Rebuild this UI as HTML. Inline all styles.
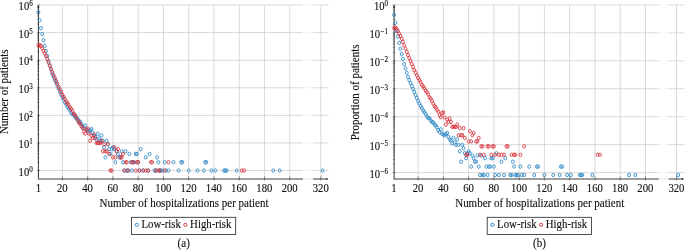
<!DOCTYPE html>
<html><head><meta charset="utf-8"><title>Hospitalizations per patient</title>
<style>html,body{margin:0;padding:0;background:#fff}svg{display:block}text{stroke:#111;stroke-width:.12px}</style></head>
<body>
<svg width="685" height="250" viewBox="0 0 685 250" font-family="'Liberation Serif', serif" font-size="11.0" fill="#111">
<rect width="685" height="250" fill="#fff"/>
<path d="M38.40 5.00H328.70 M38.40 32.59H328.70 M38.40 60.18H328.70 M38.40 87.77H328.70 M38.40 115.36H328.70 M38.40 142.95H328.70 M38.40 170.54H328.70 M62.40 5.00V179.05 M87.66 5.00V179.05 M112.92 5.00V179.05 M138.18 5.00V179.05 M163.44 5.00V179.05 M188.70 5.00V179.05 M213.96 5.00V179.05 M239.22 5.00V179.05 M264.48 5.00V179.05 M289.74 5.00V179.05 M320.80 5.00V179.05" stroke="#cfcfcf" stroke-width="0.8" fill="none"/>
<path d="M38.40 179.45V6.00" stroke="#111" stroke-width="0.85" fill="none"/>
<path d="M38.00 179.05H327.40" stroke="#7c7c7c" stroke-width="1.4" fill="none"/>
<path d="M38.40 5.00l1 2.6h-2z" fill="#111"/>
<path d="M328.40 179.05l-2 -1v2z" fill="#111"/>
<path d="M36.80 5.00h3.2 M37.20 24.28h2.0 M37.20 19.43h2.0 M37.20 15.98h2.0 M37.20 13.31h2.0 M37.20 11.12h2.0 M37.20 9.27h2.0 M37.20 7.67h2.0 M37.20 6.26h2.0 M36.80 32.59h3.2 M37.20 51.87h2.0 M37.20 47.02h2.0 M37.20 43.57h2.0 M37.20 40.90h2.0 M37.20 38.71h2.0 M37.20 36.86h2.0 M37.20 35.26h2.0 M37.20 33.85h2.0 M36.80 60.18h3.2 M37.20 79.46h2.0 M37.20 74.61h2.0 M37.20 71.16h2.0 M37.20 68.49h2.0 M37.20 66.30h2.0 M37.20 64.45h2.0 M37.20 62.85h2.0 M37.20 61.44h2.0 M36.80 87.77h3.2 M37.20 107.05h2.0 M37.20 102.20h2.0 M37.20 98.75h2.0 M37.20 96.08h2.0 M37.20 93.89h2.0 M37.20 92.04h2.0 M37.20 90.44h2.0 M37.20 89.03h2.0 M36.80 115.36h3.2 M37.20 134.64h2.0 M37.20 129.79h2.0 M37.20 126.34h2.0 M37.20 123.67h2.0 M37.20 121.48h2.0 M37.20 119.63h2.0 M37.20 118.03h2.0 M37.20 116.62h2.0 M36.80 142.95h3.2 M37.20 162.23h2.0 M37.20 157.38h2.0 M37.20 153.93h2.0 M37.20 151.26h2.0 M37.20 149.07h2.0 M37.20 147.22h2.0 M37.20 145.62h2.0 M37.20 144.21h2.0 M36.80 170.54h3.2 M62.40 176.05v4.6 M87.66 176.05v4.6 M112.92 176.05v4.6 M138.18 176.05v4.6 M163.44 176.05v4.6 M188.70 176.05v4.6 M213.96 176.05v4.6 M239.22 176.05v4.6 M264.48 176.05v4.6 M289.74 176.05v4.6 M320.80 176.05v4.6" stroke="#222" stroke-width="0.4" fill="none"/>
<rect x="303.00" y="4.00" width="10.00" height="177.05" fill="#fff"/>
<path d="M304.00 5.00H313.00 M304.00 32.59H313.00 M304.00 60.18H313.00 M304.00 87.77H313.00 M304.00 115.36H313.00 M304.00 142.95H313.00 M304.00 170.54H313.00" stroke="#cfcfcf" stroke-width="0.8" stroke-dasharray="0.8 1.4" fill="none" opacity="0.7"/>
<path d="M304.00 179.05H313.00" stroke="#999" stroke-width="1" stroke-dasharray="0.8 1.4" fill="none" opacity="0.6"/>
<g fill="none" stroke="#2a86c6" stroke-width="0.85">
<ellipse cx="38.40" cy="12.49" rx="1.45" ry="1.7"/>
<ellipse cx="39.66" cy="20.27" rx="1.45" ry="1.7"/>
<ellipse cx="40.93" cy="28.27" rx="1.45" ry="1.7"/>
<ellipse cx="42.19" cy="33.92" rx="1.45" ry="1.7"/>
<ellipse cx="43.45" cy="40.13" rx="1.45" ry="1.7"/>
<ellipse cx="44.71" cy="45.84" rx="1.45" ry="1.7"/>
<ellipse cx="45.98" cy="51.09" rx="1.45" ry="1.7"/>
<ellipse cx="47.24" cy="55.91" rx="1.45" ry="1.7"/>
<ellipse cx="48.50" cy="61.07" rx="1.45" ry="1.7"/>
<ellipse cx="49.77" cy="65.40" rx="1.45" ry="1.7"/>
<ellipse cx="51.03" cy="69.57" rx="1.45" ry="1.7"/>
<ellipse cx="52.29" cy="73.79" rx="1.45" ry="1.7"/>
<ellipse cx="53.56" cy="76.74" rx="1.45" ry="1.7"/>
<ellipse cx="54.82" cy="79.78" rx="1.45" ry="1.7"/>
<ellipse cx="56.08" cy="82.68" rx="1.45" ry="1.7"/>
<ellipse cx="57.34" cy="85.57" rx="1.45" ry="1.7"/>
<ellipse cx="58.61" cy="88.61" rx="1.45" ry="1.7"/>
<ellipse cx="59.87" cy="91.64" rx="1.45" ry="1.7"/>
<ellipse cx="61.13" cy="94.54" rx="1.45" ry="1.7"/>
<ellipse cx="62.40" cy="97.44" rx="1.45" ry="1.7"/>
<ellipse cx="63.66" cy="99.79" rx="1.45" ry="1.7"/>
<ellipse cx="64.92" cy="102.50" rx="1.45" ry="1.7"/>
<ellipse cx="66.19" cy="104.44" rx="1.45" ry="1.7"/>
<ellipse cx="67.45" cy="106.82" rx="1.45" ry="1.7"/>
<ellipse cx="68.71" cy="108.49" rx="1.45" ry="1.7"/>
<ellipse cx="69.97" cy="110.46" rx="1.45" ry="1.7"/>
<ellipse cx="71.24" cy="112.82" rx="1.45" ry="1.7"/>
<ellipse cx="72.50" cy="114.31" rx="1.45" ry="1.7"/>
<ellipse cx="73.76" cy="114.59" rx="1.45" ry="1.7"/>
<ellipse cx="75.03" cy="116.81" rx="1.45" ry="1.7"/>
<ellipse cx="76.29" cy="118.27" rx="1.45" ry="1.7"/>
<ellipse cx="77.55" cy="118.66" rx="1.45" ry="1.7"/>
<ellipse cx="78.82" cy="120.82" rx="1.45" ry="1.7"/>
<ellipse cx="80.08" cy="121.75" rx="1.45" ry="1.7"/>
<ellipse cx="81.34" cy="123.68" rx="1.45" ry="1.7"/>
<ellipse cx="82.60" cy="126.35" rx="1.45" ry="1.7"/>
<ellipse cx="83.87" cy="128.30" rx="1.45" ry="1.7"/>
<ellipse cx="85.13" cy="125.48" rx="1.45" ry="1.7"/>
<ellipse cx="86.39" cy="129.80" rx="1.45" ry="1.7"/>
<ellipse cx="87.66" cy="130.62" rx="1.45" ry="1.7"/>
<ellipse cx="88.92" cy="131.51" rx="1.45" ry="1.7"/>
<ellipse cx="90.18" cy="130.20" rx="1.45" ry="1.7"/>
<ellipse cx="91.45" cy="129.02" rx="1.45" ry="1.7"/>
<ellipse cx="92.71" cy="132.98" rx="1.45" ry="1.7"/>
<ellipse cx="93.97" cy="135.27" rx="1.45" ry="1.7"/>
<ellipse cx="95.23" cy="136.60" rx="1.45" ry="1.7"/>
<ellipse cx="96.50" cy="139.36" rx="1.45" ry="1.7"/>
<ellipse cx="97.76" cy="133.79" rx="1.45" ry="1.7"/>
<ellipse cx="99.02" cy="138.51" rx="1.45" ry="1.7"/>
<ellipse cx="100.29" cy="140.78" rx="1.45" ry="1.7"/>
<ellipse cx="101.55" cy="135.52" rx="1.45" ry="1.7"/>
<ellipse cx="102.81" cy="140.78" rx="1.45" ry="1.7"/>
<ellipse cx="104.08" cy="147.23" rx="1.45" ry="1.7"/>
<ellipse cx="105.34" cy="157.39" rx="1.45" ry="1.7"/>
<ellipse cx="106.60" cy="140.78" rx="1.45" ry="1.7"/>
<ellipse cx="107.86" cy="144.22" rx="1.45" ry="1.7"/>
<ellipse cx="109.13" cy="149.08" rx="1.45" ry="1.7"/>
<ellipse cx="110.39" cy="153.94" rx="1.45" ry="1.7"/>
<ellipse cx="111.65" cy="149.08" rx="1.45" ry="1.7"/>
<ellipse cx="112.92" cy="147.23" rx="1.45" ry="1.7"/>
<ellipse cx="114.18" cy="149.08" rx="1.45" ry="1.7"/>
<ellipse cx="115.44" cy="162.24" rx="1.45" ry="1.7"/>
<ellipse cx="116.71" cy="151.27" rx="1.45" ry="1.7"/>
<ellipse cx="117.97" cy="153.94" rx="1.45" ry="1.7"/>
<ellipse cx="119.23" cy="157.39" rx="1.45" ry="1.7"/>
<ellipse cx="120.50" cy="157.39" rx="1.45" ry="1.7"/>
<ellipse cx="121.76" cy="151.27" rx="1.45" ry="1.7"/>
<ellipse cx="123.02" cy="162.24" rx="1.45" ry="1.7"/>
<ellipse cx="124.28" cy="170.55" rx="1.45" ry="1.7"/>
<ellipse cx="125.55" cy="151.27" rx="1.45" ry="1.7"/>
<ellipse cx="126.81" cy="170.55" rx="1.45" ry="1.7"/>
<ellipse cx="128.07" cy="170.55" rx="1.45" ry="1.7"/>
<ellipse cx="129.34" cy="153.94" rx="1.45" ry="1.7"/>
<ellipse cx="130.60" cy="162.24" rx="1.45" ry="1.7"/>
<ellipse cx="131.86" cy="170.55" rx="1.45" ry="1.7"/>
<ellipse cx="133.12" cy="162.24" rx="1.45" ry="1.7"/>
<ellipse cx="134.39" cy="162.24" rx="1.45" ry="1.7"/>
<ellipse cx="135.65" cy="153.94" rx="1.45" ry="1.7"/>
<ellipse cx="136.91" cy="153.94" rx="1.45" ry="1.7"/>
<ellipse cx="138.18" cy="162.24" rx="1.45" ry="1.7"/>
<ellipse cx="139.44" cy="170.55" rx="1.45" ry="1.7"/>
<ellipse cx="140.70" cy="149.08" rx="1.45" ry="1.7"/>
<ellipse cx="143.23" cy="170.55" rx="1.45" ry="1.7"/>
<ellipse cx="145.75" cy="157.39" rx="1.45" ry="1.7"/>
<ellipse cx="148.28" cy="170.55" rx="1.45" ry="1.7"/>
<ellipse cx="149.54" cy="153.94" rx="1.45" ry="1.7"/>
<ellipse cx="154.60" cy="170.55" rx="1.45" ry="1.7"/>
<ellipse cx="155.86" cy="170.55" rx="1.45" ry="1.7"/>
<ellipse cx="157.12" cy="157.39" rx="1.45" ry="1.7"/>
<ellipse cx="158.38" cy="162.24" rx="1.45" ry="1.7"/>
<ellipse cx="159.65" cy="170.55" rx="1.45" ry="1.7"/>
<ellipse cx="160.91" cy="170.55" rx="1.45" ry="1.7"/>
<ellipse cx="162.17" cy="170.55" rx="1.45" ry="1.7"/>
<ellipse cx="164.70" cy="162.24" rx="1.45" ry="1.7"/>
<ellipse cx="165.96" cy="170.55" rx="1.45" ry="1.7"/>
<ellipse cx="168.49" cy="170.55" rx="1.45" ry="1.7"/>
<ellipse cx="173.54" cy="162.24" rx="1.45" ry="1.7"/>
<ellipse cx="178.59" cy="170.55" rx="1.45" ry="1.7"/>
<ellipse cx="181.12" cy="162.24" rx="1.45" ry="1.7"/>
<ellipse cx="182.38" cy="162.24" rx="1.45" ry="1.7"/>
<ellipse cx="188.70" cy="170.55" rx="1.45" ry="1.7"/>
<ellipse cx="197.54" cy="170.55" rx="1.45" ry="1.7"/>
<ellipse cx="203.85" cy="170.55" rx="1.45" ry="1.7"/>
<ellipse cx="205.12" cy="162.24" rx="1.45" ry="1.7"/>
<ellipse cx="206.38" cy="162.24" rx="1.45" ry="1.7"/>
<ellipse cx="211.43" cy="170.55" rx="1.45" ry="1.7"/>
<ellipse cx="215.22" cy="170.55" rx="1.45" ry="1.7"/>
<ellipse cx="224.06" cy="170.55" rx="1.45" ry="1.7"/>
<ellipse cx="225.32" cy="170.55" rx="1.45" ry="1.7"/>
<ellipse cx="226.59" cy="170.55" rx="1.45" ry="1.7"/>
<ellipse cx="236.69" cy="170.55" rx="1.45" ry="1.7"/>
<ellipse cx="273.32" cy="170.55" rx="1.45" ry="1.7"/>
<ellipse cx="279.63" cy="170.55" rx="1.45" ry="1.7"/>
<ellipse cx="322.50" cy="170.55" rx="1.45" ry="1.7"/>
</g>
<g fill="none" stroke="#d8303a" stroke-width="0.85">
<ellipse cx="38.40" cy="45.62" rx="1.45" ry="1.7"/>
<ellipse cx="39.66" cy="44.93" rx="1.45" ry="1.7"/>
<ellipse cx="40.93" cy="46.12" rx="1.45" ry="1.7"/>
<ellipse cx="42.19" cy="48.33" rx="1.45" ry="1.7"/>
<ellipse cx="43.45" cy="50.95" rx="1.45" ry="1.7"/>
<ellipse cx="44.71" cy="53.35" rx="1.45" ry="1.7"/>
<ellipse cx="45.98" cy="56.05" rx="1.45" ry="1.7"/>
<ellipse cx="47.24" cy="59.09" rx="1.45" ry="1.7"/>
<ellipse cx="48.50" cy="62.54" rx="1.45" ry="1.7"/>
<ellipse cx="49.77" cy="65.71" rx="1.45" ry="1.7"/>
<ellipse cx="51.03" cy="68.88" rx="1.45" ry="1.7"/>
<ellipse cx="52.29" cy="72.05" rx="1.45" ry="1.7"/>
<ellipse cx="53.56" cy="75.09" rx="1.45" ry="1.7"/>
<ellipse cx="54.82" cy="77.85" rx="1.45" ry="1.7"/>
<ellipse cx="56.08" cy="81.02" rx="1.45" ry="1.7"/>
<ellipse cx="57.34" cy="83.78" rx="1.45" ry="1.7"/>
<ellipse cx="58.61" cy="86.95" rx="1.45" ry="1.7"/>
<ellipse cx="59.87" cy="89.44" rx="1.45" ry="1.7"/>
<ellipse cx="61.13" cy="92.06" rx="1.45" ry="1.7"/>
<ellipse cx="62.40" cy="94.68" rx="1.45" ry="1.7"/>
<ellipse cx="63.66" cy="96.83" rx="1.45" ry="1.7"/>
<ellipse cx="64.92" cy="98.79" rx="1.45" ry="1.7"/>
<ellipse cx="66.19" cy="101.62" rx="1.45" ry="1.7"/>
<ellipse cx="67.45" cy="103.10" rx="1.45" ry="1.7"/>
<ellipse cx="68.71" cy="104.93" rx="1.45" ry="1.7"/>
<ellipse cx="69.97" cy="107.29" rx="1.45" ry="1.7"/>
<ellipse cx="71.24" cy="108.88" rx="1.45" ry="1.7"/>
<ellipse cx="72.50" cy="110.86" rx="1.45" ry="1.7"/>
<ellipse cx="73.76" cy="113.83" rx="1.45" ry="1.7"/>
<ellipse cx="75.03" cy="115.01" rx="1.45" ry="1.7"/>
<ellipse cx="76.29" cy="117.45" rx="1.45" ry="1.7"/>
<ellipse cx="77.55" cy="120.06" rx="1.45" ry="1.7"/>
<ellipse cx="78.82" cy="122.64" rx="1.45" ry="1.7"/>
<ellipse cx="80.08" cy="123.69" rx="1.45" ry="1.7"/>
<ellipse cx="81.34" cy="126.17" rx="1.45" ry="1.7"/>
<ellipse cx="82.60" cy="127.95" rx="1.45" ry="1.7"/>
<ellipse cx="83.87" cy="131.51" rx="1.45" ry="1.7"/>
<ellipse cx="85.13" cy="133.51" rx="1.45" ry="1.7"/>
<ellipse cx="86.39" cy="129.40" rx="1.45" ry="1.7"/>
<ellipse cx="87.66" cy="128.65" rx="1.45" ry="1.7"/>
<ellipse cx="88.92" cy="133.51" rx="1.45" ry="1.7"/>
<ellipse cx="90.18" cy="140.78" rx="1.45" ry="1.7"/>
<ellipse cx="91.45" cy="135.92" rx="1.45" ry="1.7"/>
<ellipse cx="92.71" cy="138.10" rx="1.45" ry="1.7"/>
<ellipse cx="93.97" cy="134.65" rx="1.45" ry="1.7"/>
<ellipse cx="95.23" cy="138.10" rx="1.45" ry="1.7"/>
<ellipse cx="96.50" cy="142.96" rx="1.45" ry="1.7"/>
<ellipse cx="97.76" cy="142.96" rx="1.45" ry="1.7"/>
<ellipse cx="99.02" cy="142.96" rx="1.45" ry="1.7"/>
<ellipse cx="100.29" cy="142.96" rx="1.45" ry="1.7"/>
<ellipse cx="101.55" cy="140.78" rx="1.45" ry="1.7"/>
<ellipse cx="102.81" cy="151.27" rx="1.45" ry="1.7"/>
<ellipse cx="104.08" cy="144.22" rx="1.45" ry="1.7"/>
<ellipse cx="105.34" cy="151.27" rx="1.45" ry="1.7"/>
<ellipse cx="106.60" cy="151.27" rx="1.45" ry="1.7"/>
<ellipse cx="107.86" cy="144.22" rx="1.45" ry="1.7"/>
<ellipse cx="109.13" cy="153.94" rx="1.45" ry="1.7"/>
<ellipse cx="110.39" cy="170.55" rx="1.45" ry="1.7"/>
<ellipse cx="111.65" cy="170.55" rx="1.45" ry="1.7"/>
<ellipse cx="112.92" cy="157.39" rx="1.45" ry="1.7"/>
<ellipse cx="114.18" cy="147.23" rx="1.45" ry="1.7"/>
<ellipse cx="115.44" cy="157.39" rx="1.45" ry="1.7"/>
<ellipse cx="116.71" cy="151.27" rx="1.45" ry="1.7"/>
<ellipse cx="117.97" cy="149.08" rx="1.45" ry="1.7"/>
<ellipse cx="120.50" cy="157.39" rx="1.45" ry="1.7"/>
<ellipse cx="121.76" cy="157.39" rx="1.45" ry="1.7"/>
<ellipse cx="123.02" cy="153.94" rx="1.45" ry="1.7"/>
<ellipse cx="124.28" cy="170.55" rx="1.45" ry="1.7"/>
<ellipse cx="125.55" cy="162.24" rx="1.45" ry="1.7"/>
<ellipse cx="126.81" cy="162.24" rx="1.45" ry="1.7"/>
<ellipse cx="128.07" cy="170.55" rx="1.45" ry="1.7"/>
<ellipse cx="131.86" cy="162.24" rx="1.45" ry="1.7"/>
<ellipse cx="133.12" cy="162.24" rx="1.45" ry="1.7"/>
<ellipse cx="135.65" cy="170.55" rx="1.45" ry="1.7"/>
<ellipse cx="136.91" cy="162.24" rx="1.45" ry="1.7"/>
<ellipse cx="138.18" cy="162.24" rx="1.45" ry="1.7"/>
<ellipse cx="139.44" cy="170.55" rx="1.45" ry="1.7"/>
<ellipse cx="143.23" cy="170.55" rx="1.45" ry="1.7"/>
<ellipse cx="145.75" cy="170.55" rx="1.45" ry="1.7"/>
<ellipse cx="148.28" cy="170.55" rx="1.45" ry="1.7"/>
<ellipse cx="150.81" cy="162.24" rx="1.45" ry="1.7"/>
<ellipse cx="152.07" cy="162.24" rx="1.45" ry="1.7"/>
<ellipse cx="155.86" cy="170.55" rx="1.45" ry="1.7"/>
<ellipse cx="158.38" cy="170.55" rx="1.45" ry="1.7"/>
<ellipse cx="159.65" cy="170.55" rx="1.45" ry="1.7"/>
<ellipse cx="164.70" cy="170.55" rx="1.45" ry="1.7"/>
<ellipse cx="168.49" cy="162.24" rx="1.45" ry="1.7"/>
<ellipse cx="241.74" cy="170.55" rx="1.45" ry="1.7"/>
<ellipse cx="244.27" cy="170.55" rx="1.45" ry="1.7"/>
</g>
<text transform="translate(29.20 10.20) scale(1 1.14)" text-anchor="end" font-size="10.6">10</text>
<text transform="translate(32.70 6.30) scale(1 1.25)" text-anchor="end" font-size="7.1">6</text>
<text transform="translate(29.20 37.79) scale(1 1.14)" text-anchor="end" font-size="10.6">10</text>
<text transform="translate(32.70 33.89) scale(1 1.25)" text-anchor="end" font-size="7.1">5</text>
<text transform="translate(29.20 65.38) scale(1 1.14)" text-anchor="end" font-size="10.6">10</text>
<text transform="translate(32.70 61.48) scale(1 1.25)" text-anchor="end" font-size="7.1">4</text>
<text transform="translate(29.20 92.97) scale(1 1.14)" text-anchor="end" font-size="10.6">10</text>
<text transform="translate(32.70 89.07) scale(1 1.25)" text-anchor="end" font-size="7.1">3</text>
<text transform="translate(29.20 120.56) scale(1 1.14)" text-anchor="end" font-size="10.6">10</text>
<text transform="translate(32.70 116.66) scale(1 1.25)" text-anchor="end" font-size="7.1">2</text>
<text transform="translate(29.20 148.15) scale(1 1.14)" text-anchor="end" font-size="10.6">10</text>
<text transform="translate(32.70 144.25) scale(1 1.25)" text-anchor="end" font-size="7.1">1</text>
<text transform="translate(29.20 175.74) scale(1 1.14)" text-anchor="end" font-size="10.6">10</text>
<text transform="translate(32.70 171.84) scale(1 1.25)" text-anchor="end" font-size="7.1">0</text>
<text transform="translate(38.30 191.70) scale(1 1.13)" text-anchor="middle" font-size="10.7">1</text>
<text transform="translate(62.30 191.70) scale(1 1.13)" text-anchor="middle" font-size="10.7">20</text>
<text transform="translate(87.56 191.70) scale(1 1.13)" text-anchor="middle" font-size="10.7">40</text>
<text transform="translate(112.82 191.70) scale(1 1.13)" text-anchor="middle" font-size="10.7">60</text>
<text transform="translate(138.08 191.70) scale(1 1.13)" text-anchor="middle" font-size="10.7">80</text>
<text transform="translate(163.34 191.70) scale(1 1.13)" text-anchor="middle" font-size="10.7">100</text>
<text transform="translate(188.60 191.70) scale(1 1.13)" text-anchor="middle" font-size="10.7">120</text>
<text transform="translate(213.86 191.70) scale(1 1.13)" text-anchor="middle" font-size="10.7">140</text>
<text transform="translate(239.12 191.70) scale(1 1.13)" text-anchor="middle" font-size="10.7">160</text>
<text transform="translate(264.38 191.70) scale(1 1.13)" text-anchor="middle" font-size="10.7">180</text>
<text transform="translate(289.64 191.70) scale(1 1.13)" text-anchor="middle" font-size="10.7">200</text>
<text transform="translate(320.70 191.70) scale(1 1.13)" text-anchor="middle" font-size="10.7">320</text>
<text transform="translate(184.00 207.10) scale(1 1.1)" text-anchor="middle">Number of hospitalizations per patient</text>
<text transform="translate(7.80 91.70) rotate(-90) scale(1 1.1)" text-anchor="middle" font-size="10.98">Number of patients</text>
<rect x="131.50" y="217.30" width="104.2" height="17.1" fill="#fff" stroke="#222" stroke-width="0.8"/>
<circle cx="136.70" cy="224.8" r="1.6" fill="none" stroke="#2a86c6" stroke-width="0.95"/>
<text transform="translate(141.40 228.20) scale(1 1.1)" font-size="10.8">Low-risk</text>
<circle cx="185.40" cy="224.8" r="1.6" fill="none" stroke="#d8303a" stroke-width="0.95"/>
<text transform="translate(190.10 228.20) scale(1 1.1)" font-size="10.8">High-risk</text>
<text transform="translate(183.70 247.30) scale(1 1.1)" text-anchor="middle">(a)</text>
<path d="M394.10 4.90H684.40 M394.10 32.85H684.40 M394.10 60.80H684.40 M394.10 88.75H684.40 M394.10 116.70H684.40 M394.10 144.65H684.40 M394.10 172.60H684.40 M418.10 4.90V179.05 M443.36 4.90V179.05 M468.62 4.90V179.05 M493.88 4.90V179.05 M519.14 4.90V179.05 M544.40 4.90V179.05 M569.66 4.90V179.05 M594.92 4.90V179.05 M620.18 4.90V179.05 M645.44 4.90V179.05 M676.50 4.90V179.05" stroke="#cfcfcf" stroke-width="0.8" fill="none"/>
<path d="M394.10 179.45V5.90" stroke="#111" stroke-width="0.85" fill="none"/>
<path d="M393.70 179.05H683.10" stroke="#7c7c7c" stroke-width="1.4" fill="none"/>
<path d="M394.10 4.90l1 2.6h-2z" fill="#111"/>
<path d="M684.10 179.05l-2 -1v2z" fill="#111"/>
<path d="M392.50 4.90h3.2 M392.90 24.44h2.0 M392.90 19.51h2.0 M392.90 16.02h2.0 M392.90 13.31h2.0 M392.90 11.10h2.0 M392.90 9.23h2.0 M392.90 7.61h2.0 M392.90 6.18h2.0 M392.50 32.85h3.2 M392.90 52.39h2.0 M392.90 47.46h2.0 M392.90 43.97h2.0 M392.90 41.26h2.0 M392.90 39.05h2.0 M392.90 37.18h2.0 M392.90 35.56h2.0 M392.90 34.13h2.0 M392.50 60.80h3.2 M392.90 80.34h2.0 M392.90 75.41h2.0 M392.90 71.92h2.0 M392.90 69.21h2.0 M392.90 67.00h2.0 M392.90 65.13h2.0 M392.90 63.51h2.0 M392.90 62.08h2.0 M392.50 88.75h3.2 M392.90 108.29h2.0 M392.90 103.36h2.0 M392.90 99.87h2.0 M392.90 97.16h2.0 M392.90 94.95h2.0 M392.90 93.08h2.0 M392.90 91.46h2.0 M392.90 90.03h2.0 M392.50 116.70h3.2 M392.90 136.24h2.0 M392.90 131.31h2.0 M392.90 127.82h2.0 M392.90 125.11h2.0 M392.90 122.90h2.0 M392.90 121.03h2.0 M392.90 119.41h2.0 M392.90 117.98h2.0 M392.50 144.65h3.2 M392.90 164.19h2.0 M392.90 159.26h2.0 M392.90 155.77h2.0 M392.90 153.06h2.0 M392.90 150.85h2.0 M392.90 148.98h2.0 M392.90 147.36h2.0 M392.90 145.93h2.0 M392.50 172.60h3.2 M418.10 176.05v4.6 M443.36 176.05v4.6 M468.62 176.05v4.6 M493.88 176.05v4.6 M519.14 176.05v4.6 M544.40 176.05v4.6 M569.66 176.05v4.6 M594.92 176.05v4.6 M620.18 176.05v4.6 M645.44 176.05v4.6 M676.50 176.05v4.6" stroke="#222" stroke-width="0.4" fill="none"/>
<rect x="658.70" y="3.90" width="10.00" height="177.15" fill="#fff"/>
<path d="M659.70 4.90H668.70 M659.70 32.85H668.70 M659.70 60.80H668.70 M659.70 88.75H668.70 M659.70 116.70H668.70 M659.70 144.65H668.70 M659.70 172.60H668.70" stroke="#cfcfcf" stroke-width="0.8" stroke-dasharray="0.8 1.4" fill="none" opacity="0.7"/>
<path d="M659.70 179.05H668.70" stroke="#999" stroke-width="1" stroke-dasharray="0.8 1.4" fill="none" opacity="0.6"/>
<g fill="none" stroke="#2a86c6" stroke-width="0.85">
<ellipse cx="394.10" cy="14.88" rx="1.45" ry="1.7"/>
<ellipse cx="395.36" cy="22.76" rx="1.45" ry="1.7"/>
<ellipse cx="396.63" cy="30.87" rx="1.45" ry="1.7"/>
<ellipse cx="397.89" cy="36.60" rx="1.45" ry="1.7"/>
<ellipse cx="399.15" cy="42.88" rx="1.45" ry="1.7"/>
<ellipse cx="400.42" cy="48.67" rx="1.45" ry="1.7"/>
<ellipse cx="401.68" cy="53.98" rx="1.45" ry="1.7"/>
<ellipse cx="402.94" cy="58.87" rx="1.45" ry="1.7"/>
<ellipse cx="404.20" cy="64.10" rx="1.45" ry="1.7"/>
<ellipse cx="405.47" cy="68.49" rx="1.45" ry="1.7"/>
<ellipse cx="406.73" cy="72.71" rx="1.45" ry="1.7"/>
<ellipse cx="407.99" cy="76.98" rx="1.45" ry="1.7"/>
<ellipse cx="409.26" cy="79.97" rx="1.45" ry="1.7"/>
<ellipse cx="410.52" cy="83.05" rx="1.45" ry="1.7"/>
<ellipse cx="411.78" cy="85.98" rx="1.45" ry="1.7"/>
<ellipse cx="413.05" cy="88.92" rx="1.45" ry="1.7"/>
<ellipse cx="414.31" cy="91.99" rx="1.45" ry="1.7"/>
<ellipse cx="415.57" cy="95.07" rx="1.45" ry="1.7"/>
<ellipse cx="416.83" cy="98.00" rx="1.45" ry="1.7"/>
<ellipse cx="418.10" cy="100.94" rx="1.45" ry="1.7"/>
<ellipse cx="419.36" cy="103.32" rx="1.45" ry="1.7"/>
<ellipse cx="420.62" cy="106.07" rx="1.45" ry="1.7"/>
<ellipse cx="421.89" cy="108.03" rx="1.45" ry="1.7"/>
<ellipse cx="423.15" cy="110.44" rx="1.45" ry="1.7"/>
<ellipse cx="424.41" cy="112.13" rx="1.45" ry="1.7"/>
<ellipse cx="425.68" cy="114.13" rx="1.45" ry="1.7"/>
<ellipse cx="426.94" cy="116.52" rx="1.45" ry="1.7"/>
<ellipse cx="428.20" cy="118.03" rx="1.45" ry="1.7"/>
<ellipse cx="429.46" cy="118.31" rx="1.45" ry="1.7"/>
<ellipse cx="430.73" cy="120.56" rx="1.45" ry="1.7"/>
<ellipse cx="431.99" cy="122.05" rx="1.45" ry="1.7"/>
<ellipse cx="433.25" cy="122.44" rx="1.45" ry="1.7"/>
<ellipse cx="434.52" cy="124.62" rx="1.45" ry="1.7"/>
<ellipse cx="435.78" cy="125.57" rx="1.45" ry="1.7"/>
<ellipse cx="437.04" cy="127.52" rx="1.45" ry="1.7"/>
<ellipse cx="438.31" cy="130.23" rx="1.45" ry="1.7"/>
<ellipse cx="439.57" cy="132.20" rx="1.45" ry="1.7"/>
<ellipse cx="440.83" cy="129.35" rx="1.45" ry="1.7"/>
<ellipse cx="442.09" cy="133.72" rx="1.45" ry="1.7"/>
<ellipse cx="443.36" cy="134.56" rx="1.45" ry="1.7"/>
<ellipse cx="444.62" cy="135.46" rx="1.45" ry="1.7"/>
<ellipse cx="445.88" cy="134.13" rx="1.45" ry="1.7"/>
<ellipse cx="447.15" cy="132.93" rx="1.45" ry="1.7"/>
<ellipse cx="448.41" cy="136.94" rx="1.45" ry="1.7"/>
<ellipse cx="449.67" cy="139.26" rx="1.45" ry="1.7"/>
<ellipse cx="450.94" cy="140.61" rx="1.45" ry="1.7"/>
<ellipse cx="452.20" cy="143.41" rx="1.45" ry="1.7"/>
<ellipse cx="453.46" cy="137.76" rx="1.45" ry="1.7"/>
<ellipse cx="454.72" cy="142.54" rx="1.45" ry="1.7"/>
<ellipse cx="455.99" cy="144.84" rx="1.45" ry="1.7"/>
<ellipse cx="457.25" cy="139.52" rx="1.45" ry="1.7"/>
<ellipse cx="458.51" cy="144.84" rx="1.45" ry="1.7"/>
<ellipse cx="459.78" cy="151.38" rx="1.45" ry="1.7"/>
<ellipse cx="461.04" cy="161.67" rx="1.45" ry="1.7"/>
<ellipse cx="462.30" cy="144.84" rx="1.45" ry="1.7"/>
<ellipse cx="463.56" cy="148.33" rx="1.45" ry="1.7"/>
<ellipse cx="464.83" cy="153.25" rx="1.45" ry="1.7"/>
<ellipse cx="466.09" cy="158.18" rx="1.45" ry="1.7"/>
<ellipse cx="467.35" cy="153.25" rx="1.45" ry="1.7"/>
<ellipse cx="468.62" cy="151.38" rx="1.45" ry="1.7"/>
<ellipse cx="469.88" cy="153.25" rx="1.45" ry="1.7"/>
<ellipse cx="471.14" cy="166.59" rx="1.45" ry="1.7"/>
<ellipse cx="472.41" cy="155.47" rx="1.45" ry="1.7"/>
<ellipse cx="473.67" cy="158.18" rx="1.45" ry="1.7"/>
<ellipse cx="474.93" cy="161.67" rx="1.45" ry="1.7"/>
<ellipse cx="476.20" cy="161.67" rx="1.45" ry="1.7"/>
<ellipse cx="477.46" cy="155.47" rx="1.45" ry="1.7"/>
<ellipse cx="478.72" cy="166.59" rx="1.45" ry="1.7"/>
<ellipse cx="479.98" cy="175.00" rx="1.45" ry="1.7"/>
<ellipse cx="481.25" cy="155.47" rx="1.45" ry="1.7"/>
<ellipse cx="482.51" cy="175.00" rx="1.45" ry="1.7"/>
<ellipse cx="483.77" cy="175.00" rx="1.45" ry="1.7"/>
<ellipse cx="485.04" cy="158.18" rx="1.45" ry="1.7"/>
<ellipse cx="486.30" cy="166.59" rx="1.45" ry="1.7"/>
<ellipse cx="487.56" cy="175.00" rx="1.45" ry="1.7"/>
<ellipse cx="488.83" cy="166.59" rx="1.45" ry="1.7"/>
<ellipse cx="490.09" cy="166.59" rx="1.45" ry="1.7"/>
<ellipse cx="491.35" cy="158.18" rx="1.45" ry="1.7"/>
<ellipse cx="492.61" cy="158.18" rx="1.45" ry="1.7"/>
<ellipse cx="493.88" cy="166.59" rx="1.45" ry="1.7"/>
<ellipse cx="495.14" cy="175.00" rx="1.45" ry="1.7"/>
<ellipse cx="496.40" cy="153.25" rx="1.45" ry="1.7"/>
<ellipse cx="498.93" cy="175.00" rx="1.45" ry="1.7"/>
<ellipse cx="501.46" cy="161.67" rx="1.45" ry="1.7"/>
<ellipse cx="503.98" cy="175.00" rx="1.45" ry="1.7"/>
<ellipse cx="505.24" cy="158.18" rx="1.45" ry="1.7"/>
<ellipse cx="510.30" cy="175.00" rx="1.45" ry="1.7"/>
<ellipse cx="511.56" cy="175.00" rx="1.45" ry="1.7"/>
<ellipse cx="512.82" cy="161.67" rx="1.45" ry="1.7"/>
<ellipse cx="514.09" cy="166.59" rx="1.45" ry="1.7"/>
<ellipse cx="515.35" cy="175.00" rx="1.45" ry="1.7"/>
<ellipse cx="516.61" cy="175.00" rx="1.45" ry="1.7"/>
<ellipse cx="517.87" cy="175.00" rx="1.45" ry="1.7"/>
<ellipse cx="520.40" cy="166.59" rx="1.45" ry="1.7"/>
<ellipse cx="521.66" cy="175.00" rx="1.45" ry="1.7"/>
<ellipse cx="524.19" cy="175.00" rx="1.45" ry="1.7"/>
<ellipse cx="529.24" cy="166.59" rx="1.45" ry="1.7"/>
<ellipse cx="534.29" cy="175.00" rx="1.45" ry="1.7"/>
<ellipse cx="536.82" cy="166.59" rx="1.45" ry="1.7"/>
<ellipse cx="538.08" cy="166.59" rx="1.45" ry="1.7"/>
<ellipse cx="544.40" cy="175.00" rx="1.45" ry="1.7"/>
<ellipse cx="553.24" cy="175.00" rx="1.45" ry="1.7"/>
<ellipse cx="559.55" cy="175.00" rx="1.45" ry="1.7"/>
<ellipse cx="560.82" cy="166.59" rx="1.45" ry="1.7"/>
<ellipse cx="562.08" cy="166.59" rx="1.45" ry="1.7"/>
<ellipse cx="567.13" cy="175.00" rx="1.45" ry="1.7"/>
<ellipse cx="570.92" cy="175.00" rx="1.45" ry="1.7"/>
<ellipse cx="579.76" cy="175.00" rx="1.45" ry="1.7"/>
<ellipse cx="581.02" cy="175.00" rx="1.45" ry="1.7"/>
<ellipse cx="582.29" cy="175.00" rx="1.45" ry="1.7"/>
<ellipse cx="592.39" cy="175.00" rx="1.45" ry="1.7"/>
<ellipse cx="629.02" cy="175.00" rx="1.45" ry="1.7"/>
<ellipse cx="635.33" cy="175.00" rx="1.45" ry="1.7"/>
<ellipse cx="678.20" cy="175.00" rx="1.45" ry="1.7"/>
</g>
<g fill="none" stroke="#d8303a" stroke-width="0.85">
<ellipse cx="394.10" cy="28.21" rx="1.45" ry="1.7"/>
<ellipse cx="395.36" cy="27.51" rx="1.45" ry="1.7"/>
<ellipse cx="396.63" cy="28.71" rx="1.45" ry="1.7"/>
<ellipse cx="397.89" cy="30.95" rx="1.45" ry="1.7"/>
<ellipse cx="399.15" cy="33.60" rx="1.45" ry="1.7"/>
<ellipse cx="400.42" cy="36.04" rx="1.45" ry="1.7"/>
<ellipse cx="401.68" cy="38.78" rx="1.45" ry="1.7"/>
<ellipse cx="402.94" cy="41.85" rx="1.45" ry="1.7"/>
<ellipse cx="404.20" cy="45.34" rx="1.45" ry="1.7"/>
<ellipse cx="405.47" cy="48.56" rx="1.45" ry="1.7"/>
<ellipse cx="406.73" cy="51.77" rx="1.45" ry="1.7"/>
<ellipse cx="407.99" cy="54.99" rx="1.45" ry="1.7"/>
<ellipse cx="409.26" cy="58.06" rx="1.45" ry="1.7"/>
<ellipse cx="410.52" cy="60.86" rx="1.45" ry="1.7"/>
<ellipse cx="411.78" cy="64.07" rx="1.45" ry="1.7"/>
<ellipse cx="413.05" cy="66.87" rx="1.45" ry="1.7"/>
<ellipse cx="414.31" cy="70.08" rx="1.45" ry="1.7"/>
<ellipse cx="415.57" cy="72.59" rx="1.45" ry="1.7"/>
<ellipse cx="416.83" cy="75.25" rx="1.45" ry="1.7"/>
<ellipse cx="418.10" cy="77.91" rx="1.45" ry="1.7"/>
<ellipse cx="419.36" cy="80.09" rx="1.45" ry="1.7"/>
<ellipse cx="420.62" cy="82.07" rx="1.45" ry="1.7"/>
<ellipse cx="421.89" cy="84.93" rx="1.45" ry="1.7"/>
<ellipse cx="423.15" cy="86.44" rx="1.45" ry="1.7"/>
<ellipse cx="424.41" cy="88.29" rx="1.45" ry="1.7"/>
<ellipse cx="425.68" cy="90.68" rx="1.45" ry="1.7"/>
<ellipse cx="426.94" cy="92.29" rx="1.45" ry="1.7"/>
<ellipse cx="428.20" cy="94.30" rx="1.45" ry="1.7"/>
<ellipse cx="429.46" cy="97.31" rx="1.45" ry="1.7"/>
<ellipse cx="430.73" cy="98.51" rx="1.45" ry="1.7"/>
<ellipse cx="431.99" cy="100.98" rx="1.45" ry="1.7"/>
<ellipse cx="433.25" cy="103.62" rx="1.45" ry="1.7"/>
<ellipse cx="434.52" cy="106.23" rx="1.45" ry="1.7"/>
<ellipse cx="435.78" cy="107.30" rx="1.45" ry="1.7"/>
<ellipse cx="437.04" cy="109.81" rx="1.45" ry="1.7"/>
<ellipse cx="438.31" cy="111.61" rx="1.45" ry="1.7"/>
<ellipse cx="439.57" cy="115.22" rx="1.45" ry="1.7"/>
<ellipse cx="440.83" cy="117.25" rx="1.45" ry="1.7"/>
<ellipse cx="442.09" cy="113.08" rx="1.45" ry="1.7"/>
<ellipse cx="443.36" cy="112.33" rx="1.45" ry="1.7"/>
<ellipse cx="444.62" cy="117.25" rx="1.45" ry="1.7"/>
<ellipse cx="445.88" cy="124.60" rx="1.45" ry="1.7"/>
<ellipse cx="447.15" cy="119.68" rx="1.45" ry="1.7"/>
<ellipse cx="448.41" cy="121.90" rx="1.45" ry="1.7"/>
<ellipse cx="449.67" cy="118.40" rx="1.45" ry="1.7"/>
<ellipse cx="450.94" cy="121.90" rx="1.45" ry="1.7"/>
<ellipse cx="452.20" cy="126.82" rx="1.45" ry="1.7"/>
<ellipse cx="453.46" cy="126.82" rx="1.45" ry="1.7"/>
<ellipse cx="454.72" cy="126.82" rx="1.45" ry="1.7"/>
<ellipse cx="455.99" cy="126.82" rx="1.45" ry="1.7"/>
<ellipse cx="457.25" cy="124.60" rx="1.45" ry="1.7"/>
<ellipse cx="458.51" cy="135.23" rx="1.45" ry="1.7"/>
<ellipse cx="459.78" cy="128.10" rx="1.45" ry="1.7"/>
<ellipse cx="461.04" cy="135.23" rx="1.45" ry="1.7"/>
<ellipse cx="462.30" cy="135.23" rx="1.45" ry="1.7"/>
<ellipse cx="463.56" cy="128.10" rx="1.45" ry="1.7"/>
<ellipse cx="464.83" cy="137.94" rx="1.45" ry="1.7"/>
<ellipse cx="466.09" cy="154.77" rx="1.45" ry="1.7"/>
<ellipse cx="467.35" cy="154.77" rx="1.45" ry="1.7"/>
<ellipse cx="468.62" cy="141.43" rx="1.45" ry="1.7"/>
<ellipse cx="469.88" cy="131.15" rx="1.45" ry="1.7"/>
<ellipse cx="471.14" cy="141.43" rx="1.45" ry="1.7"/>
<ellipse cx="472.41" cy="135.23" rx="1.45" ry="1.7"/>
<ellipse cx="473.67" cy="133.02" rx="1.45" ry="1.7"/>
<ellipse cx="476.20" cy="141.43" rx="1.45" ry="1.7"/>
<ellipse cx="477.46" cy="141.43" rx="1.45" ry="1.7"/>
<ellipse cx="478.72" cy="137.94" rx="1.45" ry="1.7"/>
<ellipse cx="479.98" cy="154.77" rx="1.45" ry="1.7"/>
<ellipse cx="481.25" cy="146.35" rx="1.45" ry="1.7"/>
<ellipse cx="482.51" cy="146.35" rx="1.45" ry="1.7"/>
<ellipse cx="483.77" cy="154.77" rx="1.45" ry="1.7"/>
<ellipse cx="487.56" cy="146.35" rx="1.45" ry="1.7"/>
<ellipse cx="488.83" cy="146.35" rx="1.45" ry="1.7"/>
<ellipse cx="491.35" cy="154.77" rx="1.45" ry="1.7"/>
<ellipse cx="492.61" cy="146.35" rx="1.45" ry="1.7"/>
<ellipse cx="493.88" cy="146.35" rx="1.45" ry="1.7"/>
<ellipse cx="495.14" cy="154.77" rx="1.45" ry="1.7"/>
<ellipse cx="498.93" cy="154.77" rx="1.45" ry="1.7"/>
<ellipse cx="501.46" cy="154.77" rx="1.45" ry="1.7"/>
<ellipse cx="503.98" cy="154.77" rx="1.45" ry="1.7"/>
<ellipse cx="506.51" cy="146.35" rx="1.45" ry="1.7"/>
<ellipse cx="507.77" cy="146.35" rx="1.45" ry="1.7"/>
<ellipse cx="511.56" cy="154.77" rx="1.45" ry="1.7"/>
<ellipse cx="514.09" cy="154.77" rx="1.45" ry="1.7"/>
<ellipse cx="515.35" cy="154.77" rx="1.45" ry="1.7"/>
<ellipse cx="520.40" cy="154.77" rx="1.45" ry="1.7"/>
<ellipse cx="524.19" cy="146.35" rx="1.45" ry="1.7"/>
<ellipse cx="597.44" cy="154.77" rx="1.45" ry="1.7"/>
<ellipse cx="599.97" cy="154.77" rx="1.45" ry="1.7"/>
</g>
<text transform="translate(384.50 10.10) scale(1 1.14)" text-anchor="end" font-size="10.6">10</text>
<text transform="translate(388.00 6.20) scale(1 1.25)" text-anchor="end" font-size="7.1">0</text>
<text transform="translate(380.10 38.05) scale(1 1.14)" text-anchor="end" font-size="10.6">10</text>
<text transform="translate(388.00 34.15) scale(1 1.25)" text-anchor="end" font-size="7.1">−1</text>
<text transform="translate(380.10 66.00) scale(1 1.14)" text-anchor="end" font-size="10.6">10</text>
<text transform="translate(388.00 62.10) scale(1 1.25)" text-anchor="end" font-size="7.1">−2</text>
<text transform="translate(380.10 93.95) scale(1 1.14)" text-anchor="end" font-size="10.6">10</text>
<text transform="translate(388.00 90.05) scale(1 1.25)" text-anchor="end" font-size="7.1">−3</text>
<text transform="translate(380.10 121.90) scale(1 1.14)" text-anchor="end" font-size="10.6">10</text>
<text transform="translate(388.00 118.00) scale(1 1.25)" text-anchor="end" font-size="7.1">−4</text>
<text transform="translate(380.10 149.85) scale(1 1.14)" text-anchor="end" font-size="10.6">10</text>
<text transform="translate(388.00 145.95) scale(1 1.25)" text-anchor="end" font-size="7.1">−5</text>
<text transform="translate(380.10 177.80) scale(1 1.14)" text-anchor="end" font-size="10.6">10</text>
<text transform="translate(388.00 173.90) scale(1 1.25)" text-anchor="end" font-size="7.1">−6</text>
<text transform="translate(394.00 191.70) scale(1 1.13)" text-anchor="middle" font-size="10.7">1</text>
<text transform="translate(418.00 191.70) scale(1 1.13)" text-anchor="middle" font-size="10.7">20</text>
<text transform="translate(443.26 191.70) scale(1 1.13)" text-anchor="middle" font-size="10.7">40</text>
<text transform="translate(468.52 191.70) scale(1 1.13)" text-anchor="middle" font-size="10.7">60</text>
<text transform="translate(493.78 191.70) scale(1 1.13)" text-anchor="middle" font-size="10.7">80</text>
<text transform="translate(519.04 191.70) scale(1 1.13)" text-anchor="middle" font-size="10.7">100</text>
<text transform="translate(544.30 191.70) scale(1 1.13)" text-anchor="middle" font-size="10.7">120</text>
<text transform="translate(569.56 191.70) scale(1 1.13)" text-anchor="middle" font-size="10.7">140</text>
<text transform="translate(594.82 191.70) scale(1 1.13)" text-anchor="middle" font-size="10.7">160</text>
<text transform="translate(620.08 191.70) scale(1 1.13)" text-anchor="middle" font-size="10.7">180</text>
<text transform="translate(645.34 191.70) scale(1 1.13)" text-anchor="middle" font-size="10.7">200</text>
<text transform="translate(676.40 191.70) scale(1 1.13)" text-anchor="middle" font-size="10.7">320</text>
<text transform="translate(539.70 207.10) scale(1 1.1)" text-anchor="middle">Number of hospitalizations per patient</text>
<text transform="translate(359.00 92.30) rotate(-90) scale(1 1.1)" text-anchor="middle" font-size="10.98">Proportion of patients</text>
<rect x="487.20" y="217.30" width="104.2" height="17.1" fill="#fff" stroke="#222" stroke-width="0.8"/>
<circle cx="492.40" cy="224.8" r="1.6" fill="none" stroke="#2a86c6" stroke-width="0.95"/>
<text transform="translate(497.10 228.20) scale(1 1.1)" font-size="10.8">Low-risk</text>
<circle cx="541.10" cy="224.8" r="1.6" fill="none" stroke="#d8303a" stroke-width="0.95"/>
<text transform="translate(545.80 228.20) scale(1 1.1)" font-size="10.8">High-risk</text>
<text transform="translate(539.40 247.30) scale(1 1.1)" text-anchor="middle">(b)</text>
</svg>
</body></html>
